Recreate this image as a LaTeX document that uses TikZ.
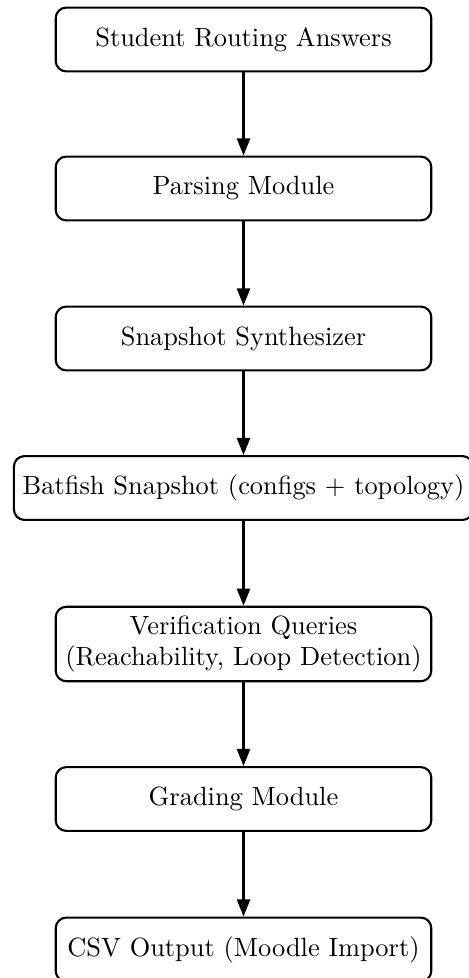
\documentclass[tikz,border=0pt]{standalone}
\usetikzlibrary{arrows.meta}
\begin{document}
\begin{tikzpicture}[x=0.3788pt,y=-0.3788pt,
  box/.style={draw,thick,rounded corners,minimum width=5cm,minimum height=0.85cm,align=center,inner sep=3.33pt},
  flow/.style={thick,-{Triangle[length=6.5pt,width=5pt]}}]
\useasboundingbox (0,0) rectangle (468,978);
\node[box] (a) at (243.5,39.5) {Student Routing Answers};
\node[box] (b) at (243.5,188.5) {Parsing Module};
\node[box] (c) at (243.5,338.5) {Snapshot Synthesizer};
\node[box] (d) at (243.5,488) {Batfish Snapshot (configs + topology)};
\node[box] (e) at (243.5,644) {Verification Queries\\(Reachability, Loop Detection)};
\node[box] (f) at (243.5,799) {Grading Module};
\node[box] (g) at (243.5,949.5) {CSV Output (Moodle Import)};
\draw[flow] (a) -- (b);
\draw[flow] (b) -- (c);
\draw[flow] (c) -- (d);
\draw[flow] (d) -- (e);
\draw[flow] (e) -- (f);
\draw[flow] (f) -- (g);
\end{tikzpicture}
\end{document}
